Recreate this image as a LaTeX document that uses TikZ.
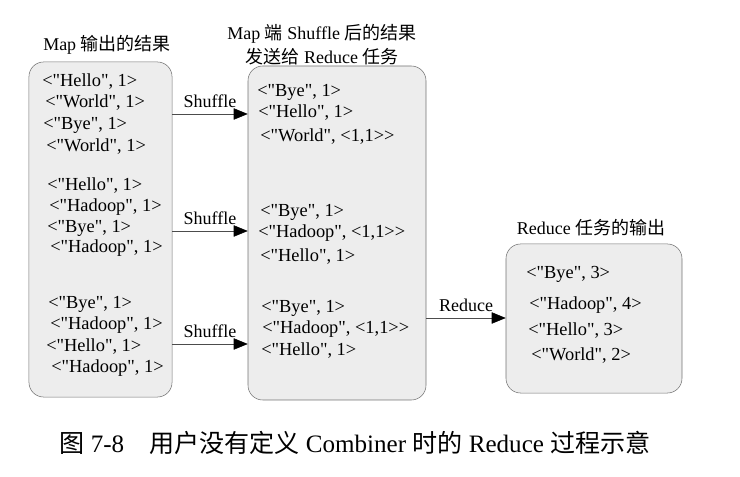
\documentclass[tikz,border=0pt]{standalone}
\usepackage{fontspec}
\setmainfont{Liberation Serif}[Ligatures=TeXOff]
\newfontfamily\cjk{Noto Sans CJK SC}
\usetikzlibrary{arrows.meta}
\tikzstyle{box} = [rectangle, rounded corners=11pt, draw=black!55, fill=black!7, inner sep=0pt]
\tikzstyle{item} = [anchor=west, inner sep=0pt, font=\fontsize{13.8}{16}\selectfont]
\tikzstyle{title} = [inner sep=0pt, align=center, font=\fontsize{13.5}{18}\selectfont]
\tikzstyle{lbl} = [anchor=base, inner sep=0pt, yshift=5pt, text=black, font=\fontsize{13.5}{16}\selectfont]
\tikzstyle{arrow} = [black!70, -{Triangle[length=10.5pt,width=8.5pt,color=black]}]

\begin{document}
\begin{tikzpicture}[x=0.75pt,y=-0.75pt]
\useasboundingbox (0,0) rectangle (740,477);

% boxes
\node (map) [box, minimum width=107.3pt, minimum height=251.3pt] at (100.5,229.5) {};
\node (shuf) [box, minimum width=133.5pt, minimum height=250.5pt] at (337,233) {};
\node (red) [box, minimum width=132pt, minimum height=111.8pt] at (594,318.5) {};

% titles
\node (maptitle) [title] at (107,45) {Map {\cjk 输出的结果}};
\node (shuftitle) [title] at (322,45) {Map {\cjk 端} Shuffle {\cjk 后的结果}\\{\cjk 发送给} Reduce {\cjk 任务}};
\node (redtitle) [title] at (591,228) {Reduce {\cjk 任务的输出}};

% map output
\node (m1) [item] at (42,82) {<"Hello", 1>};
\node (m2) [item] at (45,103) {<"World", 1>};
\node (m3) [item] at (43,125) {<"Bye", 1>};
\node (m4) [item] at (46,147) {<"World", 1>};
\node (m5) [item] at (47,186) {<"Hello", 1>};
\node (m6) [item] at (49,207) {<"Hadoop", 1>};
\node (m7) [item] at (47,228) {<"Bye", 1>};
\node (m8) [item] at (50,248) {<"Hadoop", 1>};
\node (m9) [item] at (48,304) {<"Bye", 1>};
\node (m10) [item] at (50,325) {<"Hadoop", 1>};
\node (m11) [item] at (46,347) {<"Hello", 1>};
\node (m12) [item] at (51,368) {<"Hadoop", 1>};

% after shuffle
\node (s1) [item] at (257,92) {<"Bye", 1>};
\node (s2) [item] at (258,113) {<"Hello", 1>};
\node (s3) [item] at (260,137) {<"World", <1,1>>};
\node (s4) [item] at (260,212) {<"Bye", 1>};
\node (s5) [item] at (258,233) {<"Hadoop", <1,1>>};
\node (s6) [item] at (260,257) {<"Hello", 1>};
\node (s7) [item] at (261,308) {<"Bye", 1>};
\node (s8) [item] at (262,329) {<"Hadoop", <1,1>>};
\node (s9) [item] at (261,351) {<"Hello", 1>};

% reduce output
\node (r1) [item] at (526,274) {<"Bye", 3>};
\node (r2) [item] at (529,305) {<"Hadoop", 4>};
\node (r3) [item] at (528,331) {<"Hello", 3>};
\node (r4) [item] at (531,356) {<"World", 2>};

% caption
\node (cap) [inner sep=0pt, font=\fontsize{18.8}{20}\selectfont] at (355,443) {{\cjk 图} 7-8\quad{\cjk 用户没有定义} Combiner {\cjk 时的} Reduce {\cjk 过程示意}};

\coordinate (a1) at (0,114);
\coordinate (a2) at (0,231);
\coordinate (a3) at (0,344);
\coordinate (a4) at (0,318);

\draw [arrow] (map.east |- a1) -- node[lbl] {Shuffle} (shuf.west |- a1);
\draw [arrow] (map.east |- a2) -- node[lbl] {Shuffle} (shuf.west |- a2);
\draw [arrow] (map.east |- a3) -- node[lbl] {Shuffle} (shuf.west |- a3);
\draw [arrow] (shuf.east |- a4) -- node[lbl] {Reduce} (red.west |- a4);
\end{tikzpicture}
\end{document}
